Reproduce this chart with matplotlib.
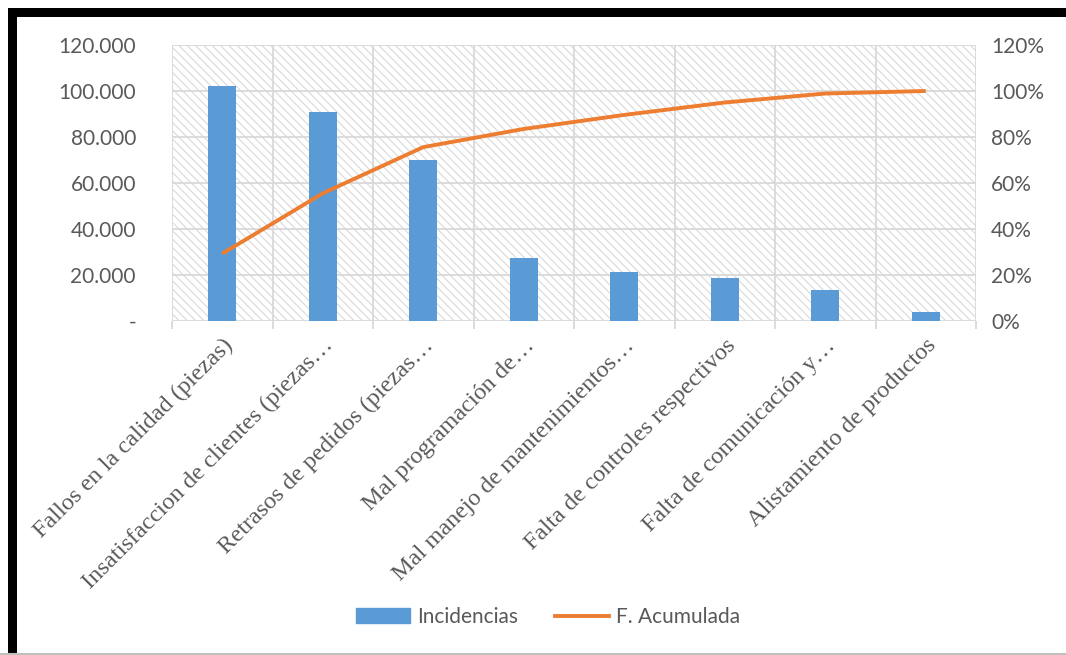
import matplotlib.pyplot as plt
import matplotlib.patches as mpatches
from matplotlib.lines import Line2D
import matplotlib as mpl

mpl.rcParams['hatch.color'] = '#d9d9d9'
mpl.rcParams['hatch.linewidth'] = 0.8

categories = [
    "Fallos en la calidad (piezas)",
    "Insatisfaccion de clientes (piezas…",
    "Retrasos de pedidos (piezas…",
    "Mal programación de…",
    "Mal manejo de mantenimientos…",
    "Falta de controles respectivos",
    "Falta de comunicación y…",
    "Alistamiento de productos",
]
incidencias = [102000, 91000, 70000, 27400, 21300, 18700, 13500, 3900]
acumulada = [29.3, 55.5, 75.6, 83.5, 89.6, 95.0, 98.9, 100.0]

y_ticks = [0, 20000, 40000, 60000, 80000, 100000, 120000]
y_labels = ["-", "20.000", "40.000", "60.000", "80.000", "100.000", "120.000"]
pct_ticks = [0, 20, 40, 60, 80, 100, 120]

blue = '#5b9bd5'
orange = '#ed7d31'
grey_txt = '#595959'
grid_c = '#d9d9d9'

fig = plt.figure(figsize=(10.66, 6.55), dpi=100)
W, H = 1066, 655
ax = fig.add_axes([172 / W, 1 - 321 / H, (976 - 172) / W, (321 - 45) / H])

x = list(range(len(categories)))
ax.set_xlim(-0.5, len(categories) - 0.5)
ax.set_ylim(0, 120000)

# hatched plot area
ax.add_patch(mpatches.Rectangle((0, 0), 1, 1, transform=ax.transAxes,
                                facecolor='white', edgecolor='#d9d9d9',
                                hatch='\\\\\\\\', linewidth=0, zorder=0))

for yt in y_ticks:
    ax.axhline(yt, color=grid_c, lw=1.3, zorder=1)
for b in range(len(categories) + 1):
    ax.axvline(b - 0.5, color=grid_c, lw=1.3, zorder=1)

ax.bar(x, incidencias, width=0.28, color=blue, zorder=3)

ax.set_yticks(y_ticks)
ax.set_yticklabels(y_labels, fontfamily='Lato', fontsize=15, color=grey_txt)
ax.tick_params(axis='y', length=0, pad=26)

ax.set_xticks([b - 0.5 for b in range(len(categories) + 1)], minor=True)
ax.set_xticks(x)
ax.set_xticklabels(categories, rotation=45, ha='right', va='top',
                   rotation_mode='anchor', fontfamily='Liberation Serif',
                   fontsize=17.5, color=grey_txt)
ax.tick_params(axis='x', which='major', length=0, pad=10)
ax.tick_params(axis='x', which='minor', length=6, color=grid_c, width=1.3)

for s in ax.spines.values():
    s.set_visible(False)

ax2 = ax.twinx()
ax2.set_ylim(0, 120)
ax2.plot(x, acumulada, color=orange, lw=2.8, zorder=4, solid_capstyle='butt')
ax2.set_yticks(pct_ticks)
ax2.set_yticklabels([f"{p}%" for p in pct_ticks], fontfamily='Lato',
                    fontsize=15, color=grey_txt)
ax2.tick_params(axis='y', length=0, pad=11)
for s in ax2.spines.values():
    s.set_visible(False)

handles = [mpatches.Patch(color=blue, label='Incidencias'),
           Line2D([0], [0], color=orange, lw=2.8, label='F. Acumulada')]
fig.legend(handles=handles, loc='center', bbox_to_anchor=(548 / W, 1 - 617 / H),
           ncol=2, frameon=False, prop={'family': 'Lato', 'size': 15},
           labelcolor=grey_txt, handlelength=2.6, columnspacing=1.8,
           handletextpad=0.3)

# black frame (top and left), grey line at bottom
fig.add_artist(mpatches.Rectangle((8 / W, 1 - 17 / H), 1, 9 / H,
                                  transform=fig.transFigure, color='black', lw=0))
fig.add_artist(mpatches.Rectangle((8 / W, 0), 9 / W, 1 - 8 / H,
                                  transform=fig.transFigure, color='black', lw=0))
fig.add_artist(Line2D([0, 1], [1.5 / H, 1.5 / H],
                      transform=fig.transFigure, color='#bfbfbf', lw=1.5))

fig.savefig('out.png', dpi=100)
